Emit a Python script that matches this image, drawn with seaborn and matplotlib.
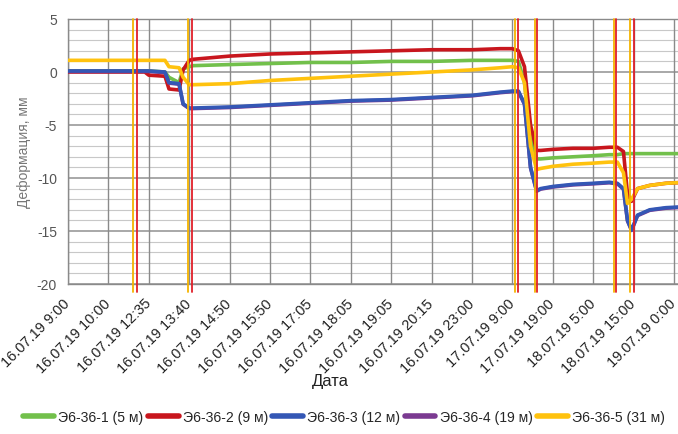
import numpy as np
import pandas as pd
import matplotlib
matplotlib.use("Agg")
import matplotlib.pyplot as plt
from matplotlib.lines import Line2D
import seaborn as sns

# ---------------- data ----------------
date_labels = ["16.07.19 9:00", "16.07.19 10:00", "16.07.19 12:35", "16.07.19 13:40",
               "16.07.19 14:50", "16.07.19 15:50", "16.07.19 17:05", "16.07.19 18:05",
               "16.07.19 19:05", "16.07.19 20:15", "16.07.19 23:00", "17.07.19 9:00",
               "17.07.19 19:00", "18.07.19 5:00", "18.07.19 15:00", "19.07.19 0:00"]

# sample positions along the date axis (in label-index units)
t = [0, 1.9, 2.0, 2.4, 2.5, 2.75, 2.85, 3.0, 3.1, 4, 5, 6, 7, 8, 9, 10, 10.7, 11.0,
     11.15, 11.3, 11.45, 11.6, 11.7, 12, 12.5, 13, 13.4, 13.6, 13.75, 13.85, 13.95,
     14.1, 14.4, 14.8, 15.3]

s1 = [0.1, 0.1, 0.1, 0.0, -0.5, -1.0, 0.3, 0.5, 0.6, 0.7, 0.8, 0.9, 0.9, 1.0, 1.0, 1.1,
      1.1, 1.1, 1.0, -1.0, -6.0, -8.2, -8.2, -8.1, -8.0, -7.9, -7.8, -7.8, -7.7, -7.7,
      -7.7, -7.7, -7.7, -7.7, -7.7]
s2 = [0.0, 0.0, -0.3, -0.4, -1.6, -1.7, 0.2, 1.1, 1.2, 1.5, 1.7, 1.8, 1.9, 2.0, 2.1, 2.1,
      2.2, 2.2, 2.0, 0.5, -5.0, -7.4, -7.4, -7.3, -7.2, -7.2, -7.1, -7.1, -7.5, -11.5,
      -12.2, -11.0, -10.7, -10.5, -10.4]
s3 = [0.1, 0.1, 0.1, 0.0, -1.0, -1.1, -3.0, -3.4, -3.4, -3.3, -3.1, -2.9, -2.7, -2.6,
      -2.4, -2.2, -1.9, -1.8, -1.8, -3.0, -9.0, -11.2, -11.0, -10.8, -10.6, -10.5, -10.4,
      -10.5, -11.0, -14.0, -14.9, -13.5, -13.0, -12.8, -12.7]
s4 = [0.05, 0.05, 0.05, -0.05, -1.05, -1.15, -3.05, -3.45, -3.45, -3.35, -3.15, -2.95,
      -2.75, -2.65, -2.45, -2.25, -1.95, -1.85, -1.85, -3.05, -9.05, -11.25, -11.05,
      -10.85, -10.65, -10.55, -10.45, -10.55, -11.05, -14.05, -14.95, -13.55, -13.05,
      -12.85, -12.75]
s5 = [1.1, 1.1, 1.1, 1.1, 0.5, 0.4, -0.5, -1.2, -1.2, -1.1, -0.8, -0.6, -0.4, -0.2, 0.0,
      0.2, 0.4, 0.5, 0.4, -1.0, -7.0, -9.2, -9.1, -8.9, -8.7, -8.6, -8.5, -8.5, -9.5,
      -12.4, -12.0, -11.0, -10.7, -10.5, -10.4]

series_names = ["Э6-36-1 (5 м)", "Э6-36-2 (9 м)", "Э6-36-3 (12 м)", "Э6-36-4 (19 м)", "Э6-36-5 (31 м)"]
series_values = [s1, s2, s3, s4, s5]
colors = ["#72c04b", "#c8161d", "#3457b5", "#7b3a91", "#ffc20e"]

events_yellow = [1.60, 2.98, 11.06, 11.55, 13.52, 13.92]
events_red = [1.70, 3.08, 11.13, 11.62, 13.57, 14.00]

# ---------------- plot ----------------
sns.set_theme(style="white")
plt.rcParams["font.family"] = ["Liberation Sans", "DejaVu Sans"]

df = pd.concat([pd.DataFrame({"t": t, "v": vals, "series": name})
                for name, vals in zip(series_names, series_values)], ignore_index=True)
palette = dict(zip(series_names, colors))
draw_order = [series_names[i] for i in (0, 1, 3, 2, 4)]  # purple under blue

fig = plt.figure(figsize=(6.78, 4.35), dpi=100)
ax = fig.add_axes([68 / 678, 1 - 285 / 435, 612 / 678, 265 / 435])

# grid
for y in range(-20, 6):
    ax.axhline(y, color="#9a9a9a" if y % 5 == 0 else "#c8c8c8",
               lw=1.2 if y % 5 == 0 else 0.8, zorder=0)
for i in range(len(date_labels)):
    ax.axvline(i, color="#8a8a8a", lw=1.0, zorder=0)

sns.lineplot(data=df, x="t", y="v", hue="series", palette=palette,
             hue_order=draw_order, sort=False, lw=2.6, ax=ax, legend=False, zorder=3)

for x in events_yellow:
    ax.axvline(x, ymin=-0.03, ymax=1.0, color="#f5b400", lw=1.3, zorder=4, clip_on=False)
for x in events_red:
    ax.axvline(x, ymin=-0.03, ymax=1.0, color="#e0202a", lw=1.3, zorder=4, clip_on=False)

ax.set_xlim(0, 15.15)
ax.set_ylim(-20, 5)
ax.set_yticks([5, 0, -5, -10, -15, -20])
ax.set_yticklabels(["5", "0", "-5", "-10", "-15", "-20"], fontsize=10, color="#555555")
ax.set_xticks(range(len(date_labels)))
ax.set_xticklabels(date_labels, rotation=45, ha="right", va="center",
                   rotation_mode="anchor", fontsize=10.5, color="#222222")
ax.tick_params(axis="x", pad=12, length=0)
ax.tick_params(axis="y", pad=8, length=0)
for sp in ax.spines.values():
    sp.set_color("#8a8a8a")
    sp.set_linewidth(1.0)
ax.spines["right"].set_visible(False)

ax.set_ylabel("Деформация, мм", fontsize=10, color="#777777", labelpad=4)
ax.set_xlabel("")
fig.text(330 / 678, 1 - 382 / 435, "Дата", fontsize=12, color="#222222", ha="center", va="center")

handles = [Line2D([0], [0], color=c, lw=4) for c in colors]
fig.legend(handles, series_names, loc="center", bbox_to_anchor=(344 / 678, 1 - 418 / 435),
           ncol=5, frameon=False, fontsize=10.1, handlelength=2.2, handletextpad=0.3,
           columnspacing=0.3, borderpad=0.1)

fig.savefig("out.png", dpi=100, facecolor="white")
